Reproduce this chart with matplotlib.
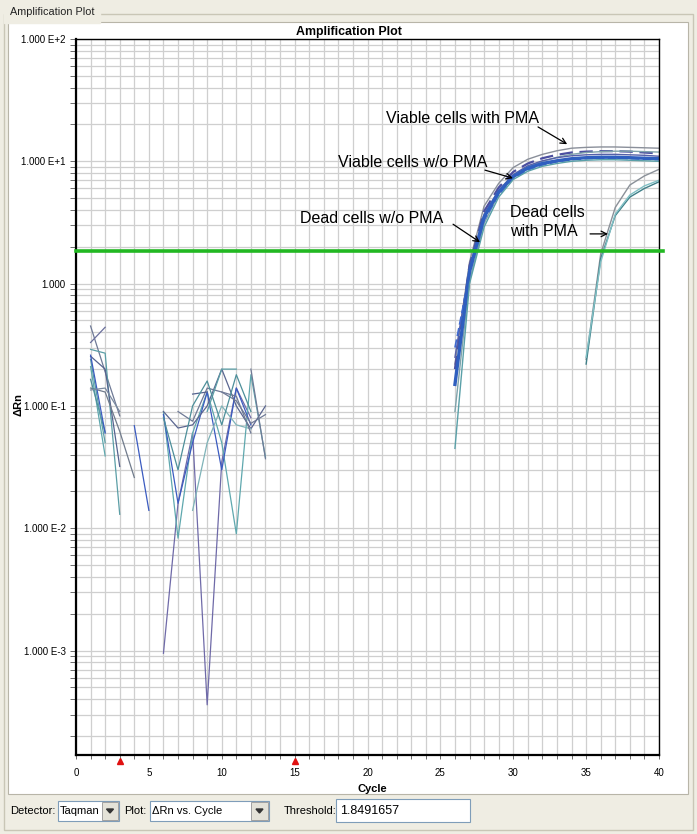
import numpy as np
import matplotlib
matplotlib.use('Agg')
import matplotlib.pyplot as plt
import matplotlib.transforms as mtransforms
from matplotlib.patches import Rectangle, Polygon
from matplotlib.ticker import FixedLocator, LogLocator, NullFormatter

plt.rcParams['font.family'] = ['Liberation Sans', 'DejaVu Sans']

W, H = 697, 834
nan = np.nan

# ---- data ----
noise_cycles = np.arange(1, 14)
noise_wells = [
    [0.45, 0.19, 0.083, nan, nan, nan, nan, nan, nan, nan, nan, nan, nan],
    [0.33, 0.44, nan, nan, nan, nan, nan, nan, nan, nan, nan, nan, nan],
    [0.29, 0.27, 0.013, nan, nan, nan, nan, nan, nan, nan, nan, nan, nan],
    [0.255, 0.20, 0.032, nan, nan, nan, nan, nan, nan, nan, nan, nan, nan],
    [0.21, 0.039, nan, nan, nan, nan, nan, nan, nan, nan, nan, nan, nan],
    [0.14, 0.13, 0.062, 0.026, nan, nan, nan, nan, nan, nan, nan, nan, nan],
    [0.165, 0.061, nan, nan, nan, nan, nan, nan, nan, nan, nan, nan, nan],
    [nan, nan, nan, 0.069, 0.014, nan, nan, nan, nan, nan, nan, nan, nan],
    [0.24, 0.05, nan, nan, nan, nan, nan, nan, nan, nan, nan, nan, nan],
    [0.26, 0.06, nan, nan, nan, nan, nan, nan, nan, nan, nan, nan, nan],
    [0.135, 0.14, 0.09, nan, nan, nan, nan, nan, nan, nan, nan, nan, nan],
    [nan, nan, nan, nan, nan, 9.5e-4, 0.016, 0.06, 3.6e-4, 0.035, 0.14, 0.08, nan],
    [nan, nan, nan, nan, nan, 0.09, 0.0083, 0.06, 0.13, 0.05, 0.009, 0.18, 0.038],
    [nan, nan, nan, nan, nan, 0.085, 0.016, 0.05, 0.13, 0.03, 0.14, 0.07, nan],
    [nan, nan, nan, nan, nan, 0.09, 0.066, 0.07, 0.10, 0.20, 0.10, 0.065, 0.10],
    [nan, nan, nan, nan, nan, nan, 0.09, 0.075, 0.14, 0.13, 0.11, 0.072, 0.085],
    [nan, nan, nan, nan, nan, nan, nan, 0.014, 0.05, 0.10, 0.07, 0.065, nan],
    [nan, nan, nan, nan, nan, nan, nan, 0.125, 0.13, nan, nan, nan, nan],
    [nan, nan, nan, nan, nan, nan, nan, nan, nan, 0.13, 0.12, 0.06, nan],
    [nan, nan, nan, nan, nan, nan, nan, nan, 0.09, 0.20, 0.20, nan, nan],
    [nan, nan, nan, nan, nan, nan, nan, nan, nan, nan, nan, 0.20, 0.037],
    [nan, nan, nan, nan, nan, 0.08, 0.03, 0.10, 0.16, 0.07, 0.18, 0.09, nan],
]
noise_colors = ['#6f7a96', '#6a6f9c', '#5b9ea6', '#55638f', '#5fa8ae', '#707b8c',
                '#4d8f9a', '#3b5bc0', '#5b9ea6', '#3b5bc0', '#7a8aa0', '#6f6aa8',
                '#5fa8ae', '#3b5bc0', '#5a6690', '#6f7a96', '#7fb3b8', '#55638f',
                '#6f7a96', '#5b9ea6', '#6f7a96', '#4d8f9a']

amp_cycles = np.arange(26, 41)
amp_curves = [
    [0.22, 1.5, 4.3, 6.6, 8.9, 10.4, 11.4, 12.2, 12.8, 13.0, 13.1, 13.1, 13.0, 12.9, 12.8],
    [0.20, 1.4, 3.9, 6.1, 8.2, 9.6, 10.6, 11.3, 11.8, 12.0, 12.1, 12.1, 12.0, 11.8, 11.6],
    [0.09, 1.05, 3.1, 5.4, 7.6, 9.0, 10.0, 10.8, 11.4, 11.8, 12.0, 12.1, 12.1, 12.0, 11.9],
    [0.25, 1.35, 3.7, 5.8, 7.8, 9.2, 10.1, 10.7, 11.1, 11.3, 11.4, 11.4, 11.3, 11.2, 11.0],
    [0.30, 1.2, 3.3, 5.3, 7.2, 8.5, 9.3, 9.9, 10.3, 10.5, 10.6, 10.6, 10.5, 10.4, 10.3],
    [0.15, 1.25, 3.5, 5.6, 7.5, 8.8, 9.6, 10.1, 10.5, 10.7, 10.8, 10.8, 10.7, 10.6, 10.5],
    [0.045, 1.0, 2.9, 5.1, 7.1, 8.3, 9.1, 9.6, 10.0, 10.2, 10.3, 10.3, 10.2, 10.1, 10.0],
]
amp_colors = ['#8a8f9a', '#4b4fa0', '#7fa3ab', '#5560a8', '#3f6ad0', '#2f5fbf', '#5aa0a8']
amp_widths = [1.0, 1.6, 1.0, 1.0, 1.2, 2.4, 1.0]
amp_styles = ['-', (0, (6, 3)), '-', '-', (0, (5, 2)), '-', '-']

pma_cycles = np.arange(35, 41)
pma_curves = [
    [0.24, 1.75, 4.2, 6.4, 7.6, 8.6],
    [0.22, 1.6, 3.6, 5.1, 6.0, 6.8],
    [0.25, 1.5, 3.7, 5.3, 6.3, 7.0],
]
pma_colors = ['#8a9098', '#3f7f88', '#7fbfc4']

threshold = 1.8491657
baseline_marks = [3, 15]
ytick_vals = [1e-3, 1e-2, 1e-1, 1, 10, 100]
ytick_text = ['1.000 E-3', '1.000 E-2', '1.000 E-1', '1.000', '1.000 E+1', '1.000 E+2']
xtick_vals = [0, 5, 10, 15, 20, 25, 30, 35, 40]


def fx(px):
    return px / W


def fy(py):
    return 1 - py / H


bg = '#EFEDE3'
fig = plt.figure(figsize=(W / 100, H / 100), dpi=100, facecolor=bg)

# group box + white plot panel (kept behind the axes)
fig.add_artist(Rectangle((fx(4), fy(830)), fx(689), 816 / H, transform=fig.transFigure,
                         facecolor='none', edgecolor='#C9C6B6', lw=1, zorder=-2))
fig.add_artist(Rectangle((fx(8), fy(794)), fx(680), 772 / H, transform=fig.transFigure,
                         facecolor='white', edgecolor='#B8B5A8', lw=0.8, zorder=-1))
fig.text(fx(10), fy(12), 'Amplification Plot', fontsize=7.8, va='center', ha='left',
         color='#222222', backgroundcolor=bg)

ax = fig.add_axes([fx(76), fy(755), 583 / W, 716 / H])
ax.set_yscale('log')
ax.set_xlim(0, 40)
ax.set_ylim(1.4e-4, 100)

ax.yaxis.set_major_locator(FixedLocator(ytick_vals))
ax.set_yticklabels(ytick_text)
ax.yaxis.set_minor_locator(LogLocator(base=10, subs=np.arange(2, 10)))
ax.yaxis.set_minor_formatter(NullFormatter())
ax.set_xticks(xtick_vals)
ax.set_xticks(np.arange(0, 41), minor=True)
ax.tick_params(axis='both', which='both', direction='out', color='#555555',
               labelsize=7, length=4, width=0.6)
ax.tick_params(axis='x', which='both', length=3, pad=6)
ax.grid(True, which='both', color='#CFCFCF', lw=0.9)
ax.set_axisbelow(True)

for s in ['left', 'bottom']:
    ax.spines[s].set_linewidth(1.6)
for s in ['top', 'right']:
    ax.spines[s].set_linewidth(1.0)

# background noise
for vals, c in zip(noise_wells, noise_colors):
    ax.plot(noise_cycles, vals, color=c, lw=0.9)

# amplification curves
for vals, c, lw, ls in zip(amp_curves, amp_colors, amp_widths, amp_styles):
    ax.plot(amp_cycles, vals, color=c, lw=lw, linestyle=ls)
for vals, c in zip(pma_curves, pma_colors):
    ax.plot(pma_cycles, vals, color=c, lw=1.0)

# threshold
ax.plot([0, 40.3], [threshold, threshold], color='#22B822', lw=2.6, clip_on=False, zorder=5)

# baseline markers
trans = mtransforms.blended_transform_factory(ax.transData, ax.transAxes)
for b in baseline_marks:
    ax.plot([b], [-0.008], marker='^', color='#E01010', ms=4, transform=trans,
            clip_on=False, zorder=6)

# annotations
arrow = dict(arrowstyle='->', color='black', lw=0.9, shrinkA=0, shrinkB=0)
ax.text(26.55, 22.6, 'Viable cells with PMA', fontsize=11.5, ha='center', va='center')
ax.annotate('', xy=(33.7, 13.8), xytext=(31.7, 19.1), arrowprops=arrow)
ax.text(23.1, 9.85, 'Viable cells w/o PMA', fontsize=11.5, ha='center', va='center')
ax.annotate('', xy=(29.98, 7.28), xytext=(28.06, 8.47), arrowprops=arrow)
ax.text(20.3, 3.43, 'Dead cells w/o PMA', fontsize=11.5, ha='center', va='center')
ax.annotate('', xy=(27.72, 2.18), xytext=(25.87, 3.06), arrowprops=arrow)
ax.text(29.78, 3.18, 'Dead cells\nwith PMA', fontsize=11.5, ha='left', va='center',
        linespacing=1.3)
ax.annotate('', xy=(36.5, 2.55), xytext=(35.27, 2.55), arrowprops=arrow)

# titles and labels
fig.text(fx(349), fy(32), 'Amplification Plot', fontsize=8.9, fontweight='bold',
         ha='center', va='center')
fig.text(fx(372), fy(789), 'Cycle', fontsize=8, fontweight='bold', ha='center', va='center')
fig.text(fx(18), fy(405), 'ΔRn', fontsize=8, fontweight='bold', rotation=90,
         ha='center', va='center')


# bottom control bar
def box(x0, x1, y0, y1, face='white'):
    fig.add_artist(Rectangle((fx(x0), fy(y1)), (x1 - x0) / W, (y1 - y0) / H,
                             transform=fig.transFigure, facecolor=face,
                             edgecolor='#7F9DB9', lw=0.8))


def dropdown(x0, x1, y0, y1):
    fig.add_artist(Rectangle((fx(x0), fy(y1)), (x1 - x0) / W, (y1 - y0) / H,
                             transform=fig.transFigure, facecolor='#E4E2D8',
                             edgecolor='#A0A0A0', lw=0.7))
    cx, cy = (x0 + x1) / 2, (y0 + y1) / 2
    fig.add_artist(Polygon([(fx(cx - 3.5), fy(cy - 2)), (fx(cx + 3.5), fy(cy - 2)),
                            (fx(cx), fy(cy + 2))], closed=True,
                           transform=fig.transFigure, color='#333333'))


ty = 811
fig.text(fx(10), fy(ty), 'Detector:', fontsize=8, va='center', ha='left')
box(58, 119, 801, 821)
fig.text(fx(60), fy(ty), 'Taqman', fontsize=8, va='center', ha='left')
dropdown(102, 118, 802, 820)
fig.text(fx(124), fy(ty), 'Plot:', fontsize=8, va='center', ha='left')
box(150, 269, 801, 821)
fig.text(fx(152), fy(ty), 'ΔRn vs. Cycle', fontsize=8, va='center', ha='left')
dropdown(251, 268, 802, 820)
fig.text(fx(284), fy(ty), 'Threshold:', fontsize=8, va='center', ha='left')
box(336, 470, 799, 822)
fig.text(fx(340), fy(ty), '1.8491657', fontsize=9, va='center', ha='left')

fig.savefig('out.png', dpi=100, facecolor=bg)
